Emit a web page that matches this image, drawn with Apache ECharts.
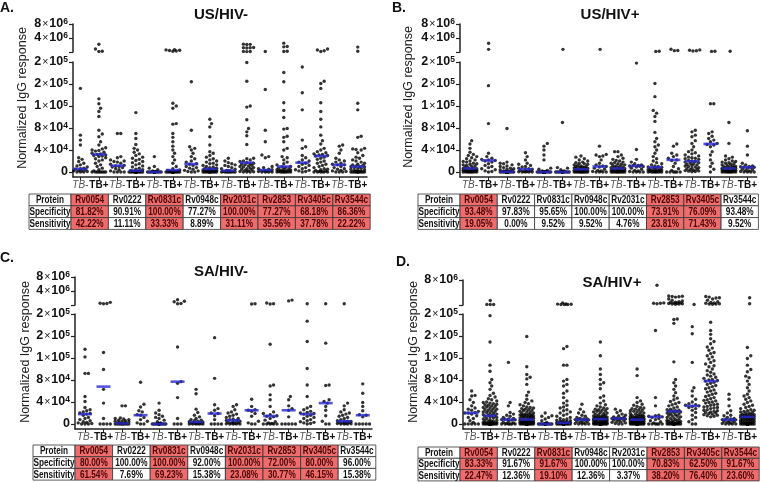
<!DOCTYPE html>
<html><head><meta charset="utf-8">
<script src="https://cdn.jsdelivr.net/npm/echarts@6/dist/echarts.min.js"></script>
<style>html,body{margin:0;padding:0;background:#fff}#c{width:760px;height:482px}</style>
</head><body><div id="c"></div>
<script>
// ---------------- DATA ----------------
const proteins = ['Rv0054','Rv0222','Rv0831c','Rv0948c','Rv2031c','Rv2853','Rv3405c','Rv3544c'];
const groups = ['TB-','TB+'];
const titles = ['US/HIV-','US/HIV+','SA/HIV-','SA/HIV+'];
const letters = ['A.','B.','C.','D.'];
const yAxisTitle = 'Normalized IgG response';
const lowerTicks = [0, 40000, 80000, 120000, 160000, 200000];
const lowerTickLabels = ['0','4×10^4','8×10^4','1×10^5','2×10^5','2×10^5'];
const upperTicks = [4000000, 8000000];
const upperTickLabels = ['4×10^6','8×10^6'];
const rowNames = ['Protein','Specificity','Sensitivity'];

// values in units of 10^4, one list per column (protein x TB-/TB+)
const usNeg = [
 [15.2,6.7,5.8,4.9,2.6,2.3,1.9,1.6,1.3,1.1,0.9,0.7,0.6,0.5,0.4,0.3,0.2,0.2,0.1,0,0,0],
 [293,232,205,208,13.3,12.4,11.6,11.0,10.1,7.6,6.9,6.4,5.5,4.9,4.4,4.2,4.0,3.9,3.8,3.6,3.4,3.3,3.2,3.1,3.0,2.9,2.8,2.6,2.4,2.2,2.0,1.6,1.3,1.0,0.7,0.4,0.2,0,0,0,0,0,0,0,0],
 [7.0,7.0,2.8,2.6,2.2,2.0,1.9,1.8,1.6,1.4,1.2,1.1,1.0,0.9,0.8,0.6,0.4,0.2,0,0,0,0],
 [10.8,7.0,6.1,5.0,4.3,4.0,3.6,3.3,3.0,2.7,2.5,2.3,2.1,1.9,1.7,1.5,1.3,1.1,0.9,0.7,0.5,0.4,0.25,0.2,0.15,0.1,0.1,0.05,0.05,0,0,0,0,0,0,0,0,0,0,0,0,0,0,0,0],
 [2.8,1.0,0.7,0.4,0.2,0.1,0.05,0,0,0,0,0,0,0,0,0,0,0,0,0,0,0],
 [225,222,218,215,210,208,12.5,12.0,11.6,8.8,8.7,7.0,6.3,5.5,4.7,4.0,3.4,2.8,2.2,1.6,1.0,0.6,0.35,0.3,0.2,0.15,0.1,0.1,0.05,0.05,0,0,0,0,0,0,0,0,0,0,0,0,0,0,0],
 [16.4,7.6,4.6,4.3,4.0,3.4,2.8,2.4,2.0,1.8,1.5,1.4,1.2,1.0,0.8,0.7,0.5,0.3,0.2,0.1,0,0],
 [9.6,8.8,8.2,6.4,4.9,3.7,3.4,3.0,2.7,2.4,2.2,2.0,1.8,1.6,1.5,1.3,1.2,1.0,0.9,0.8,0.7,0.6,0.55,0.5,0.45,0.4,0.35,0.3,0.25,0.2,0.2,0.15,0.1,0.1,0.05,0,0,0,0,0,0,0,0,0,0],
 [2.5,2.0,1.7,1.5,1.3,1.2,1.0,0.8,0.6,0.5,0.3,0.25,0.2,0.1,0.05,0,0,0,0,0,0,0],
 [295,292,290,250,248,246,244,206,205,204,19.9,16.5,12.0,11.8,9.5,7.9,7.3,6.6,5.0,2.5,2.4,2.2,2.0,1.9,1.7,1.6,1.5,1.4,1.3,1.2,1.1,1.0,0.9,0.8,0.7,0.6,0.5,0.4,0.3,0.2,0.1,0.05,0,0,0],
 [205,15.0,7.6,5.5,3.1,2.8,2.6,1.0,0.8,0.6,0.5,0.4,0.3,0.3,0.2,0.2,0.1,0.1,0,0,0,0],
 [310,262,258,207,205,18.1,16.4,12.6,11.2,9.9,7.9,7.8,6.5,6.3,5.5,4.3,4.0,2.8,2.6,2.2,1.8,1.5,1.3,1.0,0.9,0.8,0.7,0.6,0.5,0.4,0.35,0.3,0.25,0.2,0.15,0.1,0.1,0.05,0,0,0,0,0,0,0],
 [19.1,14.4,11.3,5.8,4.6,4.3,3.0,2.6,2.2,2.0,1.8,1.6,1.4,1.2,1.0,0.8,0.6,0.4,0.3,0.2,0.1,0],
 [232,220,212,205,16.5,16.1,15.2,12.6,11.0,9.6,8.2,6.7,5.7,5.1,4.3,4.0,3.7,3.5,3.3,3.2,3.1,3.0,2.9,2.7,2.5,2.3,2.0,1.8,1.6,1.4,1.2,1.0,0.8,0.6,0.5,0.4,0.3,0.2,0.1,0.05,0,0,0,0,0],
 [4.9,4.7,4.0,3.4,2.5,2.2,2.0,1.8,1.6,1.4,1.3,1.3,1.0,0.8,0.6,0.5,0.3,0.2,0.1,0,0,0],
 [255,208,12.5,11.3,6.5,6.3,4.3,4.2,4.1,4.0,3.5,3.0,2.7,2.5,2.2,2.0,1.8,1.6,1.4,1.3,1.2,1.1,1.0,1.0,0.9,0.8,0.7,0.6,0.5,0.4,0.3,0.2,0.15,0.1,0.05,0,0,0,0,0,0,0,0,0,0]
];
const usPos = [
 [5.7,5.1,4.3,3.6,3.2,3.0,2.8,2.6,2.4,2.2,2.0,1.9,1.8,1.6,1.5,1.4,1.3,1.2,1.1,1.0,0.9,0.8,0.7,0.65,0.6,0.55,0.5,0.45,0.4,0.35,0.3,0.25,0.2,0.2,0.15,0.1,0.1,0.05,0.05,0,0,0,0,0,0,0],
 [308,228,15.7,8.8,3.4,2.8,2.5,2.3,2.2,2.1,2.0,1.8,1.5,1.2,1.0,0.8,0.6,0.4,0.2,0.1,0],
 [7.9,1.8,1.6,1.5,1.3,1.1,1.0,0.8,0.7,0.6,0.5,0.4,0.3,0.2,0.15,0.1,0.05,0.05,0,0,0,0,0,0,0,0,0,0,0,0,0,0,0,0,0,0,0,0,0,0,0,0,0,0,0,0],
 [3.5,2.8,2.2,1.6,1.4,1.2,1.0,0.9,0.7,0.6,0.5,0.4,0.3,0.2,0.1,0.1,0.05,0,0,0,0],
 [5.2,4.7,4.0,3.1,2.2,0.7,0.5,0.3,0.2,0.1,0.05,0,0,0,0,0,0,0,0,0,0,0,0,0,0,0,0,0,0,0,0,0,0,0,0,0,0,0,0,0,0,0,0,0,0,0],
 [228,9.0,0.8,0.7,0.4,0.2,0.1,0,0,0,0,0,0,0,0,0,0,0,0,0,0],
 [2.9,2.7,2.4,2.2,2.0,1.8,1.7,1.6,1.5,1.4,1.3,1.2,1.1,1.0,0.95,0.9,0.85,0.8,0.75,0.7,0.65,0.6,0.55,0.5,0.45,0.4,0.35,0.3,0.3,0.25,0.2,0.2,0.15,0.1,0.1,0.05,0.05,0,0,0,0,0,0,0,0,0],
 [228,4.7,3.2,3.1,2.9,2.8,2.2,1.6,1.3,1.1,1.0,0.9,0.7,0.5,0.3,0.2,0.1,0,0,0,0],
 [3.7,3.7,3.1,2.8,2.5,2.3,2.1,2.0,1.8,1.7,1.6,1.5,1.4,1.3,1.2,1.1,1.0,0.9,0.85,0.8,0.75,0.7,0.65,0.6,0.55,0.5,0.45,0.4,0.35,0.3,0.25,0.2,0.2,0.15,0.1,0.1,0.05,0,0,0,0,0,0,0,0,0],
 [19.8,4.1,2.3,1.8,1.5,1.3,1.2,1.15,1.1,1.05,1.0,0.9,0.7,0.5,0.3,0.2,0.1,0,0,0,0],
 [207,205,16.1,13.7,11.2,10.7,10.1,9.2,7.2,6.1,5.5,4.9,4.6,4.0,3.4,2.8,2.4,2.0,1.7,1.5,1.3,1.1,1.0,0.9,0.85,0.8,0.7,0.6,0.5,0.45,0.4,0.35,0.3,0.25,0.2,0.15,0.1,0.1,0.05,0,0,0,0,0,0,0],
 [230,215,214,5.1,4.7,3.4,3.1,2.8,2.5,2.2,2.1,1.6,1.0,0.6,0.3,0,0,0,0,0,0],
 [222,212,210,218,7.6,7.3,6.7,6.4,5.7,5.2,4.6,4.0,3.7,3.5,3.3,3.1,2.9,2.7,2.6,2.5,2.4,2.3,2.1,2.0,1.9,1.8,1.7,1.6,1.5,1.4,1.3,1.2,1.1,1.0,0.9,0.8,0.7,0.6,0.5,0.4,0.3,0.25,0.2,0.15,0.1,0.05],
 [208,206,12.4,12.4,7.3,7.0,6.5,6.1,5.8,5.5,5.2,5.0,4.9,4.6,3.7,3.1,2.2,1.6,1.0,0.5,0],
 [207,9.0,5.2,2.9,2.7,2.4,2.2,2.0,1.9,1.8,1.7,1.6,1.5,1.4,1.3,1.2,1.1,1.0,0.95,0.9,0.85,0.8,0.75,0.7,0.65,0.6,0.55,0.5,0.45,0.4,0.35,0.3,0.25,0.2,0.15,0.1,0.1,0.05,0.05,0,0,0,0,0,0,0],
 [7.5,4.7,3.1,1.6,1.3,1.1,1.0,0.95,0.9,0.85,0.8,0.7,0.5,0.4,0.3,0.2,0.1,0,0,0,0]
];
const saNeg = [
 [13.6,12.2,9.2,9.2,5.0,4.1,3.0,2.6,2.4,2.2,2.0,1.9,1.8,1.6,1.2,1.0,0.8,0.6,0.4,0.3,0.2,0.1,0,0,0],
 [228,215,212,218,13.0,9.9,6.3,3.8,1.0,0,0,0,0],
 [3.3,3.3,1.1,1.0,0.9,0.8,0.7,0.6,0.5,0.5,0.4,0.3,0.2,0.1,0.1,0.05,0,0,0,0,0,0,0,0,0],
 [7.6,3.6,3.1,2.4,2.2,1.7,1.6,1.2,0.8,0.5,0.2,0,0],
 [3.8,2.5,2.0,1.7,1.4,1.2,1.0,0.7,0.4,0.2,0.1,0,0,0,0,0,0,0,0,0,0,0,0,0,0],
 [260,240,235,215,212,14.0,7.7,7.4,4.8,1.0,0,0,0],
 [6.3,5.5,2.7,2.1,1.6,1.3,1.0,0.8,0.7,0.6,0.5,0.4,0.35,0.3,0.25,0.2,0.15,0.1,0.1,0.05,0,0,0,0,0],
 [15.7,8.3,3.5,2.8,2.5,2.0,1.9,1.5,0.8,0,0,0,0],
 [3.5,3.2,2.6,2.2,2.0,1.8,1.6,1.4,1.2,1.0,0.9,0.8,0.65,0.6,0.5,0.4,0.3,0.2,0.15,0.1,0.05,0,0,0,0],
 [212,210,4.5,3.2,2.6,2.5,2.3,1.9,1.4,0.5,0.2,0,0],
 [220,212,210,14.5,7.1,6.9,5.3,4.4,3.2,2.2,1.9,1.7,1.5,1.4,1.3,1.0,0.7,0.4,0.2,0.1,0,0,0,0,0],
 [255,245,5.0,4.4,3.3,2.8,2.5,1.3,0,0,0,0,0],
 [212,18.7,15.0,10.1,7.1,5.0,3.2,2.9,2.6,2.3,2.1,2.0,1.9,1.8,1.6,1.4,1.2,1.0,0.8,0.6,0.4,0.3,0.2,0.1,0],
 [212,14.7,7.1,7.0,4.4,4.1,3.8,3.2,2.5,1.5,0.5,0,0],
 [213,3.8,3.3,2.6,2.2,2.0,1.8,1.6,1.4,1.2,1.0,0.8,0.6,0.5,0.45,0.4,0.3,0.25,0.2,0.1,0.1,0.05,0,0,0],
 [7.3,5.6,3.9,3.2,2.4,1.7,1.6,1.3,0,0,0,0,0]
];
const saPos = [
 [6.0,5.2,5.1,4.4,3.9,3.3,2.9,2.7,2.5,2.3,2.1,2.0,2.0,1.8,1.5,1.2,1.0,0.6,0.3,0,0,0,0,0],
 [257,205,206,207,19.7,14.9,10.7,9.6,8.1,7.5,6.9,6.3,5.6,5.2,4.9,4.6,4.4,4.2,4.0,3.9,3.8,3.7,3.6,3.5,3.4,3.3,3.2,3.1,3.0,2.9,2.8,2.7,2.6,2.5,2.4,2.3,2.2,2.1,2.0,1.9,1.8,1.7,1.6,1.5,1.45,1.4,1.3,1.2,1.1,1.0,0.9,0.8,0.7,0.6,0.5,0.45,0.4,0.35,0.3,0.25,0.2,0.2,0.15,0.1,0.1,0.05,0.05,0,0,0,0,0,0,0,0,0,0,0,0,0,0,0,0,0,0,0,0,0,0],
 [11.2,3.9,3.3,2.1,1.8,1.6,1.4,1.2,1.0,0.9,0.85,0.8,0.75,0.7,0.5,0.3,0.2,0.1,0,0,0,0,0,0],
 [15.9,10.4,9.0,8.5,8.2,7.2,5.8,5.2,4.5,4.2,3.9,3.7,3.5,3.3,3.1,3.0,2.9,2.8,2.7,2.6,2.5,2.4,2.3,2.2,2.1,2.0,1.9,1.8,1.75,1.7,1.65,1.6,1.55,1.5,1.45,1.4,1.35,1.3,1.25,1.2,1.15,1.1,1.05,1.0,0.8,0.78,0.75,0.72,0.7,0.68,0.65,0.6,0.55,0.5,0.5,0.45,0.4,0.4,0.35,0.3,0.3,0.25,0.2,0.2,0.15,0.1,0.1,0.05,0.05,0,0,0,0,0,0,0,0,0,0,0,0,0,0,0,0,0,0,0,0],
 [2.0,1.5,1.4,1.2,0.9,0.6,0.3,0.1,0,0,0,0,0,0,0,0,0,0,0,0,0,0,0,0],
 [225,212,210,208,206,206,205,14.1,13.7,10.7,10.7,8.1,7.8,7.2,6.9,6.0,5.6,4.8,4.2,3.8,3.4,3.1,2.9,2.6,2.4,2.2,2.0,1.8,1.6,1.4,1.2,1.0,0.9,0.8,0.7,0.6,0.5,0.45,0.4,0.35,0.3,0.25,0.25,0.2,0.2,0.15,0.1,0.1,0.05,0.05,0,0,0,0,0,0,0,0,0,0,0,0,0,0,0,0,0,0,0,0,0,0,0,0,0,0,0,0,0,0,0,0,0,0,0,0,0,0,0],
 [3.6,2.7,2.2,2.0,1.6,1.4,1.2,1.0,0.95,0.9,0.85,0.8,0.75,0.7,0.6,0.5,0.4,0.3,0.2,0.1,0,0,0,0],
 [14.9,12.4,10.0,9.0,8.1,7.5,7.2,6.4,5.1,4.8,4.2,3.8,3.5,3.3,3.1,2.9,2.8,2.7,2.6,2.5,2.4,2.3,2.2,2.1,2.0,1.9,1.8,1.7,1.6,1.5,1.45,1.4,1.35,1.3,1.25,1.2,1.15,1.1,1.05,1.0,0.98,0.96,0.94,0.92,0.9,0.88,0.85,0.8,0.75,0.7,0.65,0.6,0.55,0.5,0.45,0.4,0.35,0.3,0.28,0.25,0.22,0.2,0.18,0.15,0.12,0.1,0.08,0.05,0.03,0,0,0,0,0,0,0,0,0,0,0,0,0,0,0,0,0,0,0,0],
 [2.7,2.4,2.1,1.8,1.6,1.5,1.3,1.2,1.1,1.05,1.0,1.0,1.0,0.9,0.8,0.7,0.6,0.5,0.4,0.3,0.2,0.1,0,0],
 [10.0,8.8,4.8,4.2,3.9,3.6,3.4,3.2,3.0,2.9,2.8,2.7,2.6,2.5,2.4,2.3,2.2,2.1,2.0,1.9,1.8,1.7,1.6,1.55,1.5,1.45,1.4,1.35,1.3,1.25,1.2,1.15,1.1,1.05,1.0,0.98,0.96,0.94,0.92,0.9,0.88,0.86,0.84,0.82,0.8,0.78,0.75,0.72,0.7,0.65,0.6,0.55,0.5,0.45,0.4,0.38,0.35,0.3,0.28,0.25,0.22,0.2,0.18,0.15,0.12,0.1,0.08,0.05,0.03,0,0,0,0,0,0,0,0,0,0,0,0,0,0,0,0,0,0,0,0],
 [600,225,220,220,215,17.0,4.8,3.3,1.6,1.5,1.4,1.3,1.2,1.0,0.8,0.6,0.4,0.2,0,0,0,0,0,0],
 [330,325,320,315,310,280,260,250,240,235,230,225,222,220,218,215,212,210,208,19.1,19.0,18.3,11.3,8.1,7.5,6.9,6.3,5.7,5.1,4.7,4.4,4.1,3.9,3.7,3.5,3.3,3.1,2.9,2.7,2.6,2.5,2.4,2.35,2.3,2.25,2.2,2.1,2.0,1.9,1.8,1.7,1.6,1.5,1.4,1.3,1.2,1.1,1.0,0.9,0.8,0.7,0.6,0.55,0.5,0.45,0.4,0.35,0.3,0.25,0.2,0.15,0.1,0.05,0,0,0,0,0,0,0,0,0,0,0,0,0,0,0,0],
 [205,17.7,16.4,11.2,6.6,6.0,5.1,4.5,4.0,3.7,3.5,3.4,3.3,3.2,3.0,2.8,2.5,2.1,1.6,1.2,0.8,0.4,0,0],
 [320,310,300,295,280,260,240,230,225,220,215,212,210,208,18.5,17.0,16.3,15.5,15.0,14.6,14.0,13.8,13.4,13.0,12.8,12.4,12.2,11.8,11.5,11.2,10.9,10.6,10.4,10.0,9.7,9.4,9.1,8.9,8.7,8.5,8.3,8.1,8.0,7.9,7.8,7.6,7.4,7.2,7.0,6.8,6.6,6.4,6.2,6.0,5.8,5.6,5.4,5.2,5.0,4.8,4.6,4.4,4.3,4.2,4.0,3.9,3.8,3.6,3.5,3.4,3.2,3.1,3.0,2.9,2.8,2.6,2.5,2.4,2.3,2.2,2.1,2.0,1.9,1.8,1.7,1.6,1.5,1.4,1.3],
 [5.4,4.5,3.3,2.4,2.0,1.6,1.5,1.2,1.0,0.9,0.85,0.8,0.75,0.7,0.6,0.5,0.4,0.3,0.2,0.1,0,0,0,0],
 [300,215,13.9,12.4,11.9,10.7,9.9,9.5,8.7,8.4,7.8,7.2,6.6,6.0,5.4,5.1,4.8,4.5,4.2,3.9,3.6,3.4,3.2,3.0,2.8,2.6,2.5,2.4,2.3,2.2,2.1,2.0,1.9,1.8,1.75,1.7,1.65,1.6,1.55,1.5,1.45,1.4,1.38,1.35,1.32,1.3,1.25,1.2,1.15,1.1,1.05,1.0,0.95,0.9,0.85,0.8,0.75,0.7,0.65,0.6,0.55,0.5,0.45,0.4,0.35,0.3,0.25,0.2,0.15,0.1,0.05,0,0,0,0,0,0,0,0,0,0,0,0,0,0,0,0,0,0]
];
// medians (units of 10^4)
const usNegMedian = [0.55,3.2,1.15,0.25,0,0.35,1.45,0.55,0.25,1.7,0.35,1.0,1.7,2.9,1.3,1.0];
const usPosMedian = [0.65,2.1,0.05,0.5,0,0,0.5,1.0,0.65,1.1,0.85,2.2,1.95,5.1,0.65,0.85];
const saNegMedian = [1.8,6.8,0.1,1.6,0,7.7,0.35,1.9,0.65,2.5,1.45,2.5,1.8,3.8,0.5,1.6];
const saPosMedian = [2.0,1.5,0.8,0.8,0,0.2,0.8,0.9,1.0,0.8,1.3,2.3,3.3,7.8,0.8,1.3];
// table
const usNegSpec = ['81.82%','90.91%','100.00%','77.27%','100.00%','77.27%','68.18%','86.36%'];
const usNegSens = ['42.22%','11.11%','33.33%','8.89%','31.11%','35.56%','37.78%','22.22%'];
const usNegHighlight = [1,0,1,0,1,1,1,1];
const usPosSpec = ['93.48%','97.83%','95.65%','100.00%','100.00%','73.91%','76.09%','93.48%'];
const usPosSens = ['19.05%','0.00%','9.52%','9.52%','4.76%','23.81%','71.43%','9.52%'];
const usPosHighlight = [1,0,0,0,0,1,1,0];
const saNegSpec = ['80.00%','100.00%','100.00%','92.00%','100.00%','72.00%','80.00%','96.00%'];
const saNegSens = ['61.54%','7.69%','69.23%','15.38%','23.08%','30.77%','46.15%','15.38%'];
const saNegHighlight = [1,0,1,0,1,1,1,0];
const saPosSpec = ['83.33%','91.67%','91.67%','100.00%','100.00%','70.83%','62.50%','91.67%'];
const saPosSens = ['22.47%','12.36%','19.10%','12.36%','3.37%','38.20%','76.40%','23.60%'];
const saPosHighlight = [1,0,1,0,0,1,1,1];

// ---------------- LAYOUT ----------------
const FONT = '"Liberation Sans", Arial, sans-serif';
const panels = [
 {vals:usNeg, med:usNegMedian, spec:usNegSpec, sens:usNegSens, hl:usNegHighlight,
  L:73, R:367, upTop:24, upBot:52, loTop:62, loBot:177, xmin:-0.4, xmax:15.5,
  letter:[0,8], title:[221,15], yTitle:[23,98], tab:{x0:29,x1:71,w:37.4,top:194,rh:11.8}},
 {vals:usPos, med:usPosMedian, spec:usPosSpec, sens:usPosSens, hl:usPosHighlight,
  L:460, R:758, upTop:24, upBot:52, loTop:62, loBot:177, xmin:-0.54, xmax:15.5,
  letter:[392,8], title:[610,15], yTitle:[409,97], tab:{x0:418,x1:460,w:37.3,top:194,rh:11.8}},
 {vals:saNeg, med:saNegMedian, spec:saNegSpec, sens:saNegSens, hl:saNegHighlight,
  L:75, R:372, upTop:277, upBot:305, loTop:314, loBot:429, xmin:-0.54, xmax:15.5,
  letter:[0,258], title:[221,272], yTitle:[26,352], tab:{x0:33,x1:75,w:37.6,top:445,rh:11.7}},
 {vals:saPos, med:saPosMedian, spec:saPosSpec, sens:saPosSens, hl:saPosHighlight,
  L:463, R:758, upTop:280, upBot:305, loTop:314, loBot:429, xmin:-0.47, xmax:15.45,
  letter:[396,262], title:[612,283], yTitle:[414,352], tab:{x0:418,x1:460,w:37.4,top:447,rh:11.3}}
];
const LOWER_MIN = -9091, LOWER_MAX = 200000, UPPER_MIN = 2000000, UPPER_MAX = 8000000;
const DOT = 3.4;
const CATS = [0,1,2,3,4,5,6,7,8,9,10,11,12,13,14,15];

function sciRich(label) {
  if (label.indexOf('×') < 0) return '{m|' + label + '}';
  const parts = label.split('×'); const be = parts[1].split('^');
  return '{m|' + parts[0] + '}{x|×}{m|' + be[0] + '}{s|' + be[1] + '}';
}
const sciStyles = {
  m:{fontSize:12.5, fontWeight:'bold', color:'#111', fontFamily:FONT, lineHeight:14},
  x:{fontSize:10.5, color:'#111', fontFamily:FONT, lineHeight:14, padding:[0,1,0,1]},
  s:{fontSize:8.5, fontWeight:'bold', color:'#111', fontFamily:FONT, lineHeight:6, verticalAlign:'top'}
};
function labelFor(ticks, labels, v) {
  for (let i = 0; i < ticks.length; i++) if (Math.abs(ticks[i]-v) <= Math.abs(ticks[i])*1e-6 + 1) return sciRich(labels[i]);
  return '';
}

// beeswarm horizontal spreading (pixel space)
function swarm(vals, pxOf, maxOff) {
  const idx = vals.map((v,i)=>i).sort((a,b)=>vals[a]-vals[b]);
  const cands = [0];
  for (let k = 1; k*DOT/2 <= maxOff + 0.01; k++) cands.push(k*DOT/2, -k*DOT/2);
  const placed = [], offs = new Array(vals.length);
  for (const i of idx) {
    const py = pxOf(vals[i]);
    let best = 0, bestScore = -1;
    for (const c of cands) {
      let minD = Infinity;
      for (const p of placed) {
        const dy = p[1]-py; if (Math.abs(dy) >= DOT) continue;
        const dx = p[0]-c; const dd = Math.sqrt(dx*dx+dy*dy); if (dd < minD) minD = dd;
      }
      if (minD >= DOT) { best = c; bestScore = Infinity; break; }
      if (minD > bestScore) { bestScore = minD; best = c; }
    }
    placed.push([best, py]); offs[i] = best;
  }
  return offs;
}

const grid = [], xAxis = [], yAxis = [], series = [], graphic = [];
const axisCol = '#222';
panels.forEach((P, p) => {
  const W = P.R - P.L;
  const catPx = W / (P.xmax - P.xmin);
  const upPerDoubling = (P.upBot - P.upTop) / Math.log2(UPPER_MAX/UPPER_MIN);
  const loPerUnit = (P.loBot - P.loTop) / ((LOWER_MAX - LOWER_MIN)/1e4);
  grid.push({left:P.L, top:P.upTop, width:W, height:P.upBot-P.upTop});
  grid.push({left:P.L, top:P.loTop, width:W, height:P.loBot-P.loTop});
  xAxis.push({type:'value', gridIndex:2*p, min:P.xmin, max:P.xmax, show:false});
  xAxis.push({type:'value', gridIndex:2*p+1, min:P.xmin, max:P.xmax,
    axisLine:{show:true, onZero:false, lineStyle:{color:axisCol, width:1.5}},
    axisTick:{show:true, length:3, customValues:CATS, lineStyle:{color:axisCol}},
    axisLabel:{customValues:CATS, margin:3, hideOverlap:false, showMinLabel:true, showMaxLabel:true,
      formatter:v => (Math.round(v)%2===0 ? '{n|' + groups[0] + '}' : '{p|' + groups[1] + '}'),
      rich:{n:{fontSize:10, fontStyle:'italic', color:'#555', fontFamily:FONT},
            p:{fontSize:10, fontWeight:'bold', color:'#111', fontFamily:FONT}}},
    splitLine:{show:false}});
  yAxis.push({type:'log', logBase:2, gridIndex:2*p, min:UPPER_MIN, max:UPPER_MAX,
    axisLine:{show:true, onZero:false, lineStyle:{color:axisCol, width:1.5}},
    axisTick:{show:true, length:4, customValues:[2020000, 4000000, 8000000], lineStyle:{color:axisCol, width:1.2}},
    axisLabel:{customValues:upperTicks, margin:5, hideOverlap:false, formatter:v => labelFor(upperTicks, upperTickLabels, v), rich:sciStyles},
    splitLine:{show:false}});
  yAxis.push({type:'value', gridIndex:2*p+1, min:LOWER_MIN, max:LOWER_MAX,
    axisLine:{show:true, onZero:false, lineStyle:{color:axisCol, width:1.5}},
    axisTick:{show:true, length:4, customValues:lowerTicks, lineStyle:{color:axisCol, width:1.2}},
    axisLabel:{customValues:lowerTicks, margin:5, hideOverlap:false, formatter:v => labelFor(lowerTicks, lowerTickLabels, v), rich:sciStyles},
    splitLine:{show:false}});

  const upData = [], loData = [], medData = [];
  P.vals.forEach((col, c) => {
    const up = col.filter(v => v >= 100), lo = col.filter(v => v < 100);
    const uo = swarm(up, v => Math.log2(v*1e4)*upPerDoubling, 7.2);
    const lOff = swarm(lo, v => v*loPerUnit, 7.2);
    up.forEach((v,i) => upData.push([c + uo[i]/catPx, v*1e4]));
    lo.forEach((v,i) => loData.push([c + lOff[i]/catPx, v*1e4]));
    medData.push([c, P.med[c]*1e4]);
  });
  const dotStyle = {color:'#000'};
  series.push({type:'scatter', xAxisIndex:2*p, yAxisIndex:2*p, data:upData, symbolSize:DOT, itemStyle:dotStyle, silent:true, clip:false});
  series.push({type:'scatter', xAxisIndex:2*p+1, yAxisIndex:2*p+1, data:loData, symbolSize:DOT, itemStyle:dotStyle, silent:true, clip:false});
  series.push({type:'scatter', xAxisIndex:2*p+1, yAxisIndex:2*p+1, data:medData, symbol:'rect', symbolSize:[14,2.6], itemStyle:{color:'#2a2ad2'}, silent:true, z:5, clip:false});

  // texts
  graphic.push({type:'text', x:P.letter[0], y:P.letter[1], style:{text:letters[p], font:'bold 14px ' + FONT, fill:'#111', align:'left', verticalAlign:'middle', textAlign:'left', textVerticalAlign:'middle'}});
  graphic.push({type:'text', x:P.title[0], y:P.title[1], style:{text:titles[p], font:'bold 15px ' + FONT, fill:'#111', align:'center', verticalAlign:'middle', textAlign:'center', textVerticalAlign:'middle'}});
  graphic.push({type:'text', x:P.yTitle[0], y:P.yTitle[1], rotation:Math.PI/2, style:{text:yAxisTitle, font:'12.5px ' + FONT, fill:'#222', align:'center', verticalAlign:'middle', textAlign:'center', textVerticalAlign:'middle'}});

  // table
  const T = P.tab;
  const rowsText = [proteins, P.spec, P.sens];
  for (let r = 0; r < 3; r++) {
    const y = T.top + r*T.rh;
    graphic.push({type:'rect', shape:{x:T.x0, y:y, width:T.x1-T.x0, height:T.rh}, style:{fill:'#fff', stroke:'#333', lineWidth:0.8}});
    graphic.push({type:'text', x:(T.x0+T.x1)/2, y:y+T.rh/2+0.5, scaleX:0.82, style:{text:rowNames[r], font:'bold 10px ' + FONT, fill:'#111', align:'center', verticalAlign:'middle', textAlign:'center', textVerticalAlign:'middle'}});
    for (let c = 0; c < 8; c++) {
      const x = T.x1 + c*T.w;
      const red = P.hl[c] === 1;
      graphic.push({type:'rect', shape:{x:x, y:y, width:T.w, height:T.rh}, style:{fill: red ? '#ef6c6c' : '#fff', stroke:'#333', lineWidth:0.8}});
      graphic.push({type:'text', x:x+T.w/2, y:y+T.rh/2+0.5, scaleX:0.82, style:{text:rowsText[r][c], font:'bold 10px ' + FONT, fill: red ? '#4a0505' : '#111', align:'center', verticalAlign:'middle', textAlign:'center', textVerticalAlign:'middle'}});
    }
  }
});

const chart = echarts.init(document.getElementById('c'), null, {renderer:'canvas'});
chart.setOption({animation:false, backgroundColor:'#fff', grid, xAxis, yAxis, series, graphic});
</script></body></html>
